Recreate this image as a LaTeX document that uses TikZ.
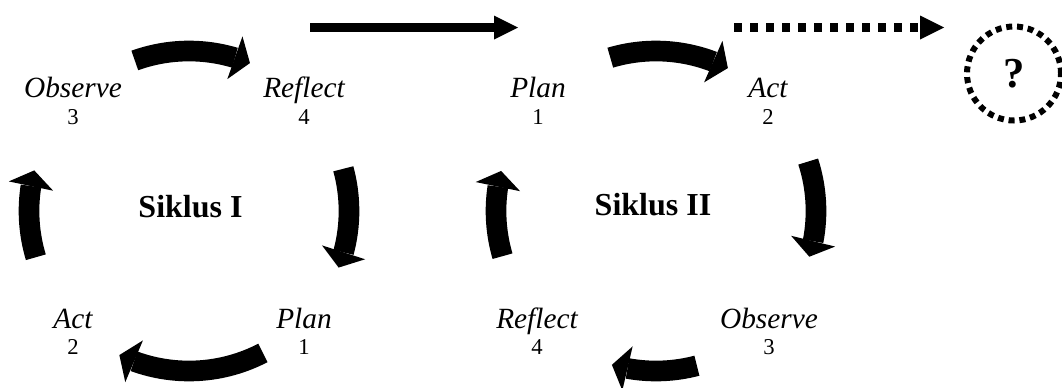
\documentclass[tikz,border=0pt]{standalone}
\usepackage{fontspec}
\setmainfont{Liberation Serif}
\usetikzlibrary{arrows.meta,bending,calc}

\begin{document}
\begin{tikzpicture}[x=0.75pt,y=0.75pt,
  lbl/.style={font=\fontsize{22}{25}\selectfont\itshape, anchor=base, inner sep=0pt},
  num/.style={font=\fontsize{17}{19}\selectfont, anchor=base, inner sep=0pt},
  cyctitle/.style={font=\fontsize{24}{28}\selectfont\bfseries, anchor=base, inner sep=0pt},
  cyc/.style={line width=15.5pt, -{Triangle[length=12pt,width=34pt,line width=0pt]}},
  nextarrow/.style={line width=6.75pt, -{Triangle[length=18pt,width=18pt,line width=0pt]}},
  maybearrow/.style={line width=6.5pt, dash pattern=on 6pt off 6pt,
    -{Triangle[length=18pt,width=18pt,line width=0pt]}},
  unknown/.style={draw, circle, line width=4.5pt, dash pattern=on 4.5pt off 3.6pt,
    minimum size=70.5pt, inner sep=0pt, font=\fontsize{32}{36}\selectfont\bfseries}
]
\path[use as bounding box, clip] (0,0) rectangle (1062,-387);

% centres of the two cycles
\coordinate (c1) at (189,-211);
\coordinate (c2) at (656,-211);

% curved block arrows of both cycles
\foreach \nm/\c/\a/\b in {
    lt/c1/109.8/67.6, lr/c1/15.3/-20.7, lb/c1/-62.5/-115.8, ll/c1/196.8/165.3,
    rt/c2/106.6/63.3, rr/c2/18/-16.6, rb/c2/-75.2/-106, rl/c2/196.4/165.5}{
  \coordinate (\nm) at ($(\c)+(\a:160)$);
  \draw[cyc] (\nm) arc[start angle=\a, end angle=\b, radius=160];
}

% cycle I
\node[cyctitle] (s1) at (190.5,-217) {Siklus I};
\node[lbl] (obs1) at (73,-97) {Observe};
\node[num] (obs1n) at (73,-124) {3};
\node[lbl] (ref1) at (304,-97) {Reflect};
\node[num] (ref1n) at (304,-124) {4};
\node[lbl] (act1) at (73,-328) {Act};
\node[num] (act1n) at (73,-354) {2};
\node[lbl] (plan1) at (304,-328) {Plan};
\node[num] (plan1n) at (304,-354) {1};

% cycle II
\node[cyctitle] (s2) at (653,-215) {Siklus II};
\node[lbl] (plan2) at (538,-97) {Plan};
\node[num] (plan2n) at (538,-124) {1};
\node[lbl] (act2) at (768,-97) {Act};
\node[num] (act2n) at (768,-124) {2};
\node[lbl] (ref2) at (537,-328) {Reflect};
\node[num] (ref2n) at (537,-354) {4};
\node[lbl] (obs2) at (769,-328) {Observe};
\node[num] (obs2n) at (769,-354) {3};

% transition between cycles and the open continuation
\coordinate (n0) at (310,-27.5);
\coordinate (n1) at (518,-27.5);
\draw[nextarrow] (n0) -- (n1);

\node[unknown] (q) at (1014,-73.5) {?};
\coordinate (m0) at (734,-27.5);
\coordinate (m1) at (944,-27.5);
\draw[maybearrow] (m0) -- (m1);
\end{tikzpicture}
\end{document}
